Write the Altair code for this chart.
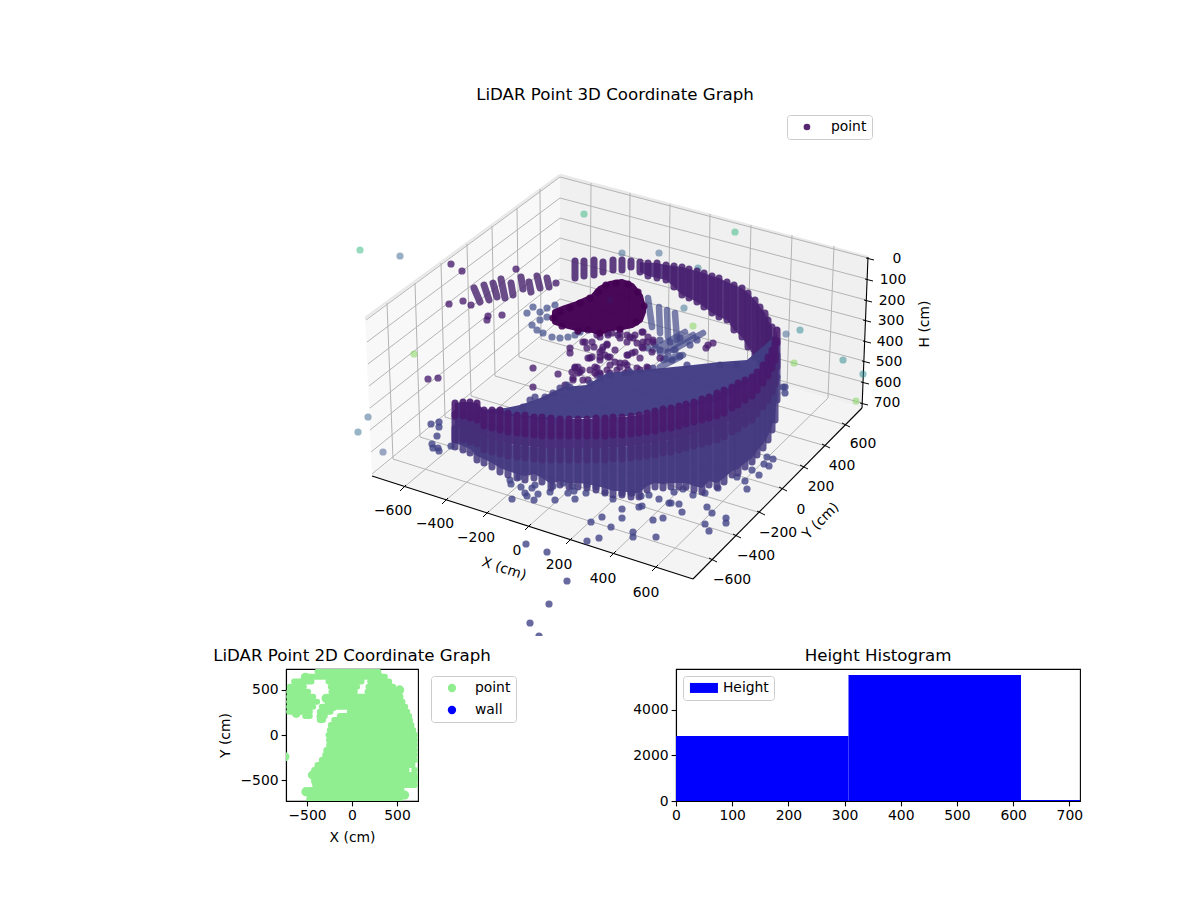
import altair as alt
import pandas as pd

FONT = "DejaVu Sans"

# ---------- 3D panel: values as read on the projected drawing plane ----------
wall_x = [455,463,470,477,484,492,500,508,517,525,534,542,551,560,569,578,587,596,605,613,622,631,639,647,655,663,671,679,686,694,702,709,717,724,732,738,745,752,757,763,768,772,775,777]
wall_top = [403,402,402,403,410,410,410,413,415,415,417,417,418,419,419,419,419,418,418,417,417,416,415,413,411,409,408,406,404,402,399,397,393,390,387,383,380,377,372,365,357,350,340,330]
wall_mid = [428,428,430,432,438,440,442,444,445,446,447,448,448,448,448,448,448,448,448,447,447,446,445,444,443,441,440,438,436,434,432,430,428,425,420,417,412,408,402,395,388,380,372,355]
wall_bot = [447,450,453,460,463,467,472,475,478,480,478,482,488,485,487,487,488,490,492,495,495,497,497,490,487,488,487,487,487,490,492,485,487,482,475,473,467,462,455,448,440,430,420,400]

rear_x = [575,584,594,603,613,622,631,640,648,657,666,674,682,689,697,704,712,719,727,734,742,748,755,760,765,768,772]
rear_top = [261,261,260,262,260,260,261,262,263,263,265,266,267,269,271,273,276,278,282,285,288,293,300,307,313,320,327]
rear_bot = [278,276,275,272,270,270,267,272,276,278,280,287,295,298,302,307,313,317,320,330,337,347,357,363,370,377,383]

ceil_x = [480,505,520,540,563,587,607,637,663,693,720,747,765,775]
ceil_top = [410,408,405,398,387,385,373,370,368,365,362,360,345,335]
ceil_bot = [412,415,417,419,419,418,418,415,410,406,401,383,368,345]

blob_x = [555,565,577,593,600,610,622,632,640,643]
blob_top = [312,308,304,297,289,284,282,286,296,308]
blob_bot = [322,325,328,330,332,328,327,325,320,312]
blob_edge_x = [553,560,570,580,590,598,606,616,628,638,644,636,620,600,578,562]
blob_edge_y = [318,312,308,303,298,292,285,283,284,292,306,322,329,333,331,326]

fan_x = [648,659,667,675,703,693,685,680,683]
fan_y = [298,307,310,313,333,335,332,357,355]
fan_x2 = [652,660,668,677,673,660,653,660,663]
fan_y2 = [327,333,337,340,350,353,350,367,360]
fan_dot_x = [660,668,675,665,672,680,690,697,655,648,660,670,680]
fan_dot_y = [350,352,350,358,360,356,345,340,345,348,340,342,338]

arm_x = [474,484,493,501,511,521,529,537,547]
arm_y = [288,285,283,279,283,277,282,276,278]
arm_x2 = [480,489,497,505,513,523,531,540,549]
arm_y2 = [302,300,297,298,295,289,292,288,287]

dark_x = [451,462,449,463,471,487,488,502,516,556,428,438,533,558,533,570,570,583,587,594,600,607,615,620,627,635,637,643,647,628,632,640,590,600,608,610,620,627,575,580,597,595,600,573,588,617,625,640,648,588,600,618,608,642,653,652,660,708,713,706,
          575,582,578,588,592,595,602,603,607,605,610,600,612,620,630,627,635,625,615,620,610,600,590,585,592,597,608,627,643,643,648,642,653,633,572,578,565,573,583,597,607,628,637,647]
dark_y = [264,271,304,301,305,320,316,315,269,283,379,378,368,374,387,348,353,342,348,347,352,345,350,338,342,335,343,332,342,355,353,358,358,360,357,365,363,365,368,372,368,373,374,378,380,370,373,370,368,330,337,335,335,347,342,352,358,345,343,348,
          367,370,373,358,357,367,350,347,344,355,357,357,333,333,337,355,352,363,362,367,373,373,370,342,342,335,333,335,342,348,337,332,340,338,372,367,385,380,380,375,370,370,368,367]

low_x = [431,439,439,437,432,433,438,439,451,512,510,511,519,521,525,527,535,532,538,534,550,555,553,563,568,572,575,574,586,587,596,605,613,622,622,622,602,591,611,599,587,633,633,526,547,639,631,642,653,663,656,669,671,679,682,707,712,726,726,705,709,649,659,747,745,737,759,752,764,769,767,773,693,705,718,674,683,632,641,783,785,785,775,777,567,549,530,539]
low_y = [424,422,427,436,444,448,448,451,446,499,480,484,477,487,493,496,485,488,494,500,492,500,486,483,493,486,499,491,493,485,487,493,499,493,509,518,517,522,527,538,541,532,537,544,552,507,493,506,520,518,537,503,503,504,512,507,513,518,523,524,531,495,499,489,481,477,475,470,464,466,457,459,495,493,488,492,489,493,496,387,393,387,349,377,581,604,623,636]

edge_x = [523,530,535,545,553,560,567,570,590,600,610,630,653,687,720,737]
edge_y = [407,400,397,397,393,388,385,387,383,378,375,372,368,365,365,365]

arc_x = [532,537,543,552,560,568,575,580,527,533,540,547,555,540,547,555]
arc_y = [325,330,333,337,338,337,335,332,313,307,312,308,305,320,317,318]

far_x = [360,400,414,584,735,622,659,698,693,684,786,800,794,843,863,856,368,358,383]
far_y = [250,256,354,214,232,253,253,268,326,308,334,330,363,360,374,401,417,432,452]
far_c = [0.65,0.3,0.8,0.65,0.65,0.3,0.3,0.4,0.8,0.35,0.3,0.45,0.8,0.45,0.45,0.8,0.3,0.35,0.25]

legend_x = [610]
legend_y = [300]
legend_series = ["point"]

# frame of the 3D box
left_pane_x, left_pane_top, left_pane_bot = [365,372,560], [318,313,175], [318,476,322]
right_pane_x, right_pane_top, right_pane_bot = [560,862,868], [175,255,257], [322,408,257]
floor_x, floor_top, floor_bot = [372,560,693,862], [476,322,360,408], [476,536,579,408]

x_front_x, x_front_y = [403,445,486,528,569,613,655], [488,501,514,527,541,554,568]
x_back_x, x_back_y = [590,629,668,708,747,787,828], [331,342,353,365,376,387,398]
x_top_x, x_top_y = [591,630,670,710,751,792,834], [183,193,204,214,225,235,246]
y_front_x, y_front_y = [713,737,761,783,804,826,846], [560,536,513,489,467,446,425]
y_back_x, y_back_y = [393,420,445,471,495,519,541], [459,437,417,396,376,357,339]
y_top_x, y_top_y = [387,415,441,467,492,517,540], [303,283,263,244,226,208,189]
h_left_x, h_left_y = [366,367,368,369,370,370,371,372], [320,342,364,386,408,430,452,474]
h_back_x, h_back_y = [560,560,560,560,560,560,560,560], [177,198,218,238,258,279,299,320]
h_right_x, h_right_y = [868,867,866,865,865,864,863,862], [258,279,300,320,341,361,382,403]

x_tick_labels = ["\u2212600","\u2212400","\u2212200","0","200","400","600"]
x_label_x, x_label_y = [393,435,476,517,559,603,646], [511,524,538,551,565,579,593]
y_tick_labels = ["\u2212600","\u2212400","\u2212200","0","200","400","600"]
y_label_x, y_label_y = [732,756,778,801,821,842,863], [580,556,533,510,487,466,444]
h_tick_labels = ["0","100","200","300","400","500","600","700"]
h_label_x, h_label_y = [897,893,892,891,890,889,888,887], [259,280,301,321,342,362,383,403]

# ---------- 2D panel (cm) ----------
span_y = [704,648,593,593,593,537,537,537,481,481,481,426,426,370,370,315,315,259,259,259,211,211,211,167,167,111,56,0,-56,-111,-167,-222,-278,-333,-389,-389,-444,-500,-556,-611,-667,-715]
span_x1 = [-383,-531,-643,-261,202,-691,-235,183,-698,-228,172,-698,-261,-698,-272,-698,-335,-698,-357,-24,-520,-357,-135,-357,-198,-235,-246,-261,-254,-254,-284,-298,-335,-383,-420,691,-457,-420,-409,-469,-476,-476]
span_x2 = [291,365,-450,106,413,-535,57,457,-487,31,513,-431,539,-387,561,-431,591,-468,-239,613,-469,-302,635,-322,643,661,680,698,698,698,698,698,698,672,606,698,698,698,698,550,561,531]
dot_x = [-517,-620,-746,-435,685,-343,-213,528,583,-511,-287,288,398,553,621,676,-213,-235,-265,-317,-369,-402,-620]
dot_y = [641,241,-241,-444,-481,204,315,500,-667,-630,407,659,555,296,148,0,63,-56,-178,-289,-370,-519,537]
dot_series = ["point"] * len(dot_x)

# ---------- histogram ----------
bin_lo = [0, 307, 614]
bin_hi = [307, 614, 921]
bin_count = [2850, 5530, 40]
bin_series = ["Height"] * 3

BX = alt.Scale(domain=[8, 1192], nice=False, zero=False)
BY = alt.Scale(domain=[636, 8], nice=False, zero=False)
VIR = alt.Scale(scheme="viridis", domain=[0, 1])


def area(xs, tops, bots, **mk):
    d = pd.DataFrame({"x": xs, "t": tops, "b": bots})
    return alt.Chart(d).mark_area(**mk).encode(
        x=alt.X("x:Q", scale=BX, axis=None),
        y=alt.Y("t:Q", scale=BY, axis=None),
        y2="b:Q",
    )


def segs(x1, y1, x2, y2, **mk):
    d = pd.DataFrame({"x": x1, "y": y1, "x2": x2, "y2": y2})
    return alt.Chart(d).mark_rule(**mk).encode(
        x=alt.X("x:Q", scale=BX, axis=None),
        y=alt.Y("y:Q", scale=BY, axis=None),
        x2="x2:Q",
        y2="y2:Q",
    )


def dots(xs, ys, cs, op):
    d = pd.DataFrame({"x": xs, "y": ys, "c": cs})
    return alt.Chart(d).mark_circle(size=52, opacity=op, clip=True).encode(
        x=alt.X("x:Q", scale=BX, axis=None),
        y=alt.Y("y:Q", scale=BY, axis=None),
        fill=alt.Fill("c:Q", scale=VIR, legend=None),
    )


def labels(xs, ys, ts, angle=0, size=13.9):
    d = pd.DataFrame({"x": xs, "y": ys, "t": ts})
    return alt.Chart(d).mark_text(
        font=FONT, fontSize=size, color="black", angle=angle, align="center", baseline="middle"
    ).encode(
        x=alt.X("x:Q", scale=BX, axis=None),
        y=alt.Y("y:Q", scale=BY, axis=None),
        text="t:N",
    )


GRID = dict(color="#b4b4b4", strokeWidth=1)
COL = dict(strokeWidth=7, strokeCap="round")

layers = [
    area(left_pane_x, left_pane_top, left_pane_bot, color="#f8f8f8"),
    area(right_pane_x, right_pane_top, right_pane_bot, color="#f0f0f0"),
    area(floor_x, floor_top, floor_bot, color="#f4f4f4"),
    segs([365, 560], [318, 175], [560, 868], [175, 257], color="#e9e9e9", strokeWidth=2.5),
    segs(x_back_x, x_back_y, x_front_x, x_front_y, **GRID),
    segs(x_back_x, x_back_y, x_top_x, x_top_y, **GRID),
    segs(y_back_x, y_back_y, y_front_x, y_front_y, **GRID),
    segs(y_back_x, y_back_y, y_top_x, y_top_y, **GRID),
    segs(h_left_x, h_left_y, h_back_x, h_back_y, **GRID),
    segs(h_back_x, h_back_y, h_right_x, h_right_y, **GRID),
    segs([372, 693, 868], [476, 579, 257], [693, 862, 862], [579, 408, 408], color="black", strokeWidth=1.1),
    segs([v + 3 for v in x_front_x], [v - 3 for v in x_front_y], [v - 3 for v in x_front_x], [v + 3 for v in x_front_y], color="black", strokeWidth=1),
    segs([v - 4 for v in y_front_x], [v - 2 for v in y_front_y], [v + 4 for v in y_front_x], [v + 2 for v in y_front_y], color="black", strokeWidth=1),
    segs([v - 2 for v in h_right_x], h_right_y, [v + 6 for v in h_right_x], [v + 2 for v in h_right_y], color="black", strokeWidth=1),
    labels(x_label_x, x_label_y, x_tick_labels),
    labels(y_label_x, y_label_y, y_tick_labels),
    labels(h_label_x, h_label_y, h_tick_labels),
    labels([504], [569], ["X (cm)"], angle=18),
    labels([821], [521], ["Y (cm)"], angle=315),
    labels([925], [324], ["H (cm)"], angle=270),
    labels([615], [95], ["LiDAR Point 3D Coordinate Graph"], size=16.67),
    # far side of the room
    dots(far_x, far_y, far_c, 0.5),
    dots(arc_x, arc_y, [0.22] * len(arc_x), 0.7),
    segs(arm_x, arm_y, arm_x2, arm_y2, stroke="#46206c", opacity=0.8, **COL),
    area(rear_x[7:], rear_top[7:], rear_bot[7:], color="#482374", opacity=0.85),
    segs(rear_x, rear_top, rear_x, rear_bot, stroke="#471f6f", opacity=0.85, **COL),
    segs(fan_x, fan_y, fan_x2, fan_y2, stroke="#3f4788", opacity=0.68, strokeWidth=6.5, strokeCap="round"),
    dots(fan_dot_x, fan_dot_y, [0.2] * len(fan_dot_x), 0.75),
    dots(dark_x, dark_y, [0.07] * len(dark_x), 0.78),
    area(blob_x, blob_top, blob_bot, color="#440154", stroke="#440154", strokeWidth=6, strokeJoin="round", opacity=0.97),
    dots(blob_edge_x, blob_edge_y, [0.0] * len(blob_edge_x), 0.9),
    area(ceil_x, ceil_top, ceil_bot, color="#423d84", opacity=0.97),
    dots(edge_x, edge_y, [0.18] * len(edge_x), 0.8),
    dots(low_x, low_y, [0.2] * len(low_x), 0.8),
    area(wall_x, wall_mid, [v - 4 for v in wall_bot], color="#443a82", opacity=0.92),
    area(wall_x, wall_top, wall_mid, color="#46287a", opacity=0.95),
    segs(wall_x, wall_mid, wall_x, wall_bot, stroke="#44397f", opacity=0.85, **COL),
    segs(wall_x, [v - 14 for v in wall_mid], wall_x, [v + 12 for v in wall_mid], stroke="#462d78", opacity=0.9, **COL),
    segs(wall_x, wall_top, wall_x, [v - 12 for v in wall_mid], stroke="#481a6e", opacity=0.9, **COL),
    alt.Chart(pd.DataFrame({"x": legend_x, "y": legend_y, "s": legend_series})).mark_circle(size=44, opacity=0.9).encode(
        x=alt.X("x:Q", scale=BX, axis=None),
        y=alt.Y("y:Q", scale=BY, axis=None),
        color=alt.Color(
            "s:N",
            scale=alt.Scale(domain=["point"], range=["#440f60"]),
            legend=alt.Legend(
                title=None, orient="none", legendX=779, legendY=107, fillColor="white",
                strokeColor="#cccccc", cornerRadius=3, padding=5, symbolSize=44,
                symbolType="circle", labelFontSize=13.9, labelFont=FONT, labelColor="black",
                symbolOffset=8, labelOffset=17,
            ),
        ),
    ),
]
top = alt.layer(*layers).properties(width=1184, height=628, view=alt.ViewBackground(stroke=None))

# ---------- 2D coordinate graph ----------
SX = alt.Scale(domain=[-733, 733], nice=False, zero=False)
SY = alt.Scale(domain=[-733, 733], nice=False, zero=False)
spans = alt.Chart(pd.DataFrame({"y": span_y, "x": span_x1, "x2": span_x2})).mark_rule(
    stroke="#90ee90", strokeWidth=6, strokeCap="round", clip=True
).encode(
    x=alt.X("x:Q", scale=SX, axis=alt.Axis(values=[-500, 0, 500], title="X (cm)", titlePadding=8)),
    x2="x2:Q",
    y=alt.Y("y:Q", scale=SY, axis=alt.Axis(values=[-500, 0, 500], title="Y (cm)", titlePadding=7)),
)
blobs = alt.Chart(pd.DataFrame({"x": dot_x, "y": dot_y, "s": dot_series})).mark_circle(size=86, opacity=1, clip=True).encode(
    x=alt.X("x:Q", scale=SX),
    y=alt.Y("y:Q", scale=SY),
    color=alt.Color(
        "s:N",
        scale=alt.Scale(domain=["point", "wall"], range=["#90ee90", "#0000ff"]),
        legend=alt.Legend(
            title=None, orient="none", legendX=145, legendY=7, fillColor="white",
            strokeColor="#cccccc", cornerRadius=3, padding=5, symbolSize=70, rowPadding=7,
            symbolType="circle", symbolOpacity=1, labelFontSize=13.9, labelFont=FONT, labelColor="black",
            symbolOffset=9, labelOffset=16,
        ),
    ),
)
left = alt.layer(spans, blobs).properties(width=132, height=132, title="LiDAR Point 2D Coordinate Graph")

# ---------- histogram ----------
hist = alt.Chart(pd.DataFrame({"lo": bin_lo, "hi": bin_hi, "n": bin_count, "s": bin_series})).mark_rect(clip=True).encode(
    x=alt.X("lo:Q", scale=alt.Scale(domain=[0, 719], nice=False, zero=False), axis=alt.Axis(values=[0, 100, 200, 300, 400, 500, 600, 700], title=None)),
    x2="hi:Q",
    y=alt.Y("n:Q", scale=alt.Scale(domain=[0, 5790], nice=False), axis=alt.Axis(values=[0, 2000, 4000], title=None, format="d")),
    y2=alt.Y2(datum=0),
    color=alt.Color(
        "s:N",
        scale=alt.Scale(domain=["Height"], range=["#0000ff"]),
        legend=alt.Legend(
            title=None, orient="none", legendX=7, legendY=7, fillColor="white",
            strokeColor="#cccccc", cornerRadius=3, padding=5,
            symbolType="M-2.8,-1H2.8V1H-2.8Z", symbolSize=100, symbolOpacity=1,
            symbolOffset=9, labelFontSize=13.9, labelFont=FONT, labelColor="black", labelOffset=12,
        ),
    ),
).properties(width=404, height=132, title="Height Histogram")

spacer = alt.Chart(pd.DataFrame({"a": [0]})).mark_circle(opacity=0).encode(
    x=alt.X("a:Q", axis=None), y=alt.Y("a:Q", axis=None)
).properties(width=20, height=132, view=alt.ViewBackground(stroke=None))

bottom = alt.hconcat(spacer, left, hist, spacing=258, bounds="flush").resolve_scale(color="independent")
chart = alt.vconcat(top, bottom, spacing=33, bounds="flush").resolve_scale(color="independent").properties(padding=0).configure_view(
    stroke="black", strokeWidth=1.1
).configure_axis(
    grid=False, labelFont=FONT, titleFont=FONT, labelFontSize=13.9, titleFontSize=13.9,
    titleFontWeight="normal", labelColor="black", titleColor="black", domainColor="black",
    tickColor="black", tickSize=4.9, tickWidth=1.1, domainWidth=1.1, labelPadding=3, titlePadding=4,
    labelFlush=False, labelOverlap=False,
).configure_title(
    font=FONT, fontSize=16.67, fontWeight="normal", color="black", anchor="middle", offset=4
).configure_legend(labelLimit=200)

chart.save("out.html", embed_options={"renderer": "svg", "actions": False})
